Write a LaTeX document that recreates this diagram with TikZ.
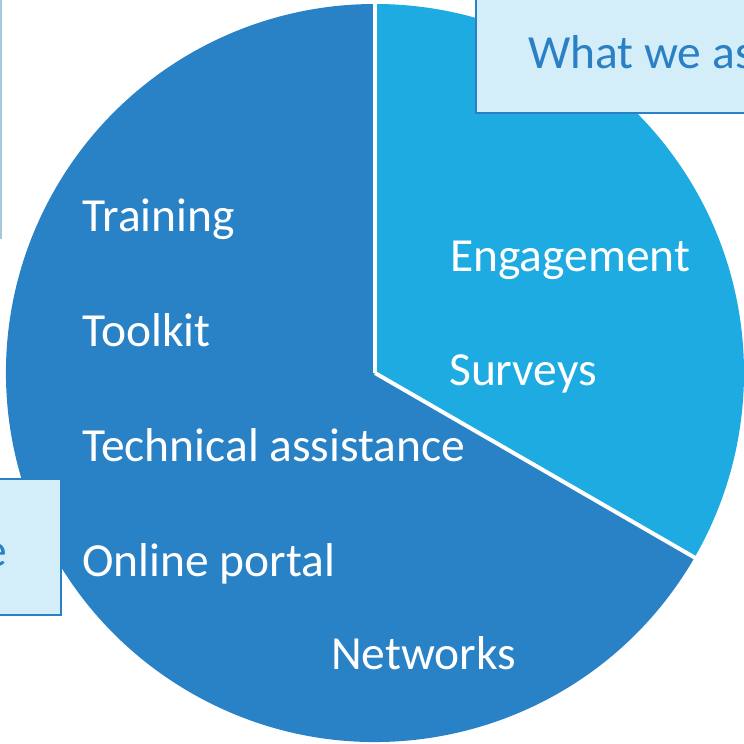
\documentclass[tikz,border=0pt]{standalone}
\usepackage{fontspec}
\setmainfont{Carlito}
\definecolor{darkslice}{RGB}{41,130,198}
\definecolor{lightslice}{RGB}{30,171,226}
\definecolor{boxfill}{RGB}{211,237,249}
\definecolor{boxline}{RGB}{42,128,196}
\definecolor{greyline}{RGB}{166,200,218}
\tikzset{
  pietext/.style={anchor=base west, inner sep=0pt, text=white, font=\fontsize{47.5}{47.5}\selectfont},
  boxtext/.style={inner sep=0pt, text=boxline, font=\fontsize{47.5}{47.5}\selectfont},
  infobox/.style={fill=boxfill, draw=boxline, line width=2.5pt},
  sep/.style={draw=white, line width=4pt}
}
\begin{document}
\begin{tikzpicture}[x=1pt,y=1pt]
\useasboundingbox (0,0) rectangle (744,744);
\clip (0,0) rectangle (744,744);
\coordinate (C) at (375,371);
% slices
\fill[lightslice] (C) -- ++(90:369) arc[start angle=90, end angle=-30, radius=369] -- cycle;
\fill[darkslice] (C) -- ++(-30:369) arc[start angle=-30, end angle=-270, radius=369] -- cycle;
\path (C) ++(90:373) coordinate (T);
\path (C) ++(-30:371) coordinate (E);
\draw[sep] (C) -- (T);
\draw[sep] (C) -- (E);
% boxes
\draw[draw=greyline, fill=white, line width=1.5pt] (-100,506) rectangle (1,800);
\draw[infobox] (476,631) rectangle (800,800);
\draw[infobox] (-100,129) rectangle (61,265);
% texts
\node[pietext] (training) at (82,512) {Training};
\node[pietext] (toolkit) at (82,397) {Toolkit};
\node[pietext] (tech) at (82,282) {Technical assistance};
\node[pietext] (portal) at (82,167) {Online portal};
\node[pietext] (networks) at (331,74) {Networks};
\node[pietext] (engage) at (450,472) {Engagement};
\node[pietext] (surveys) at (449,358) {Surveys};
\node[boxtext, anchor=base west] (what) at (528,675) {What we as};
\node[boxtext, anchor=base east] (e) at (7,177) {e};
\end{tikzpicture}
\end{document}
